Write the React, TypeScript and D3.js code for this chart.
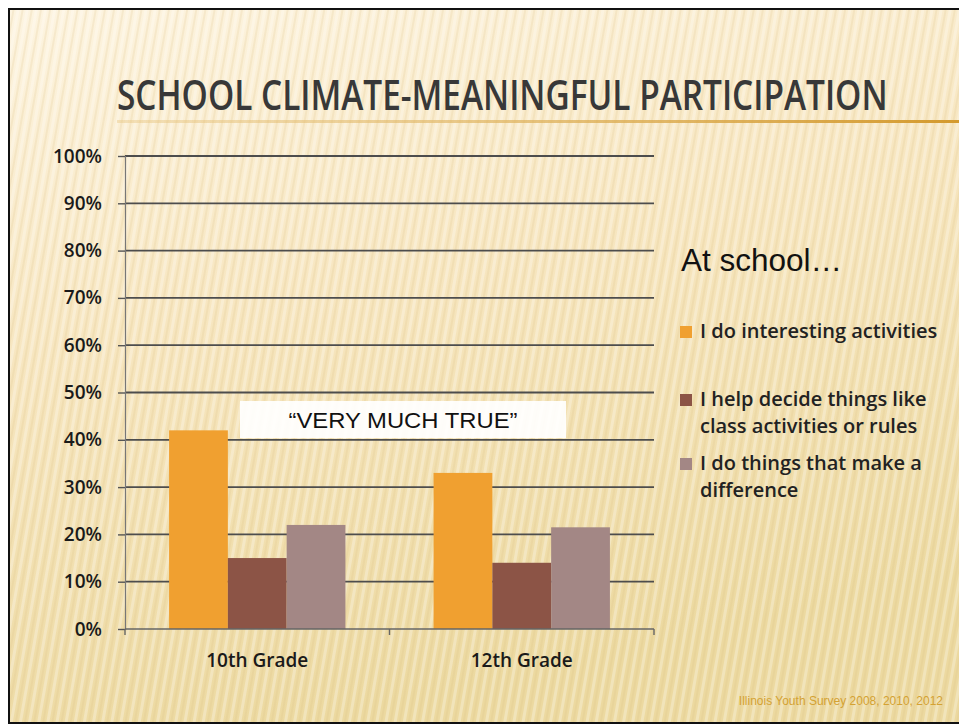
import React, { useEffect, useRef } from 'react';
import * as d3 from 'd3';

const grades = ['10th Grade', '12th Grade'];
const seriesNames = [
  'I do interesting activities',
  'I help decide things like class activities or rules',
  'I do things that make a difference',
];
const interesting = [42, 33];
const helpDecide = [15, 14];
const makeDifference = [22, 21.5];
const yTicks = [0, 10, 20, 30, 40, 50, 60, 70, 80, 90, 100];
const legendLines = [
  ['I do interesting activities'],
  ['I help decide things like', 'class activities or rules'],
  ['I do things that make a', 'difference'],
];
const colors = ['#f0a030', '#8c5446', '#a38785'];

export default function App() {
  const ref = useRef<SVGSVGElement>(null);

  useEffect(() => {
    const svg = d3.select(ref.current);
    svg.selectAll('*').remove();
    const W = 959, H = 727;

    const defs = svg.append('defs');
    const bg = defs.append('linearGradient').attr('id', 'bg').attr('x1', 0).attr('y1', 0).attr('x2', 0.3).attr('y2', 1);
    bg.append('stop').attr('offset', '0%').attr('stop-color', '#fdf4e0');
    bg.append('stop').attr('offset', '45%').attr('stop-color', '#f7e6c0');
    bg.append('stop').attr('offset', '100%').attr('stop-color', '#ecd9a0');

    const stripes = defs.append('pattern').attr('id', 'stripes')
      .attr('width', 9).attr('height', 40).attr('patternUnits', 'userSpaceOnUse')
      .attr('patternTransform', 'rotate(10)');
    stripes.append('rect').attr('width', 3).attr('height', 40).attr('fill', '#ffffff').attr('opacity', 0.28);
    stripes.append('rect').attr('x', 5).attr('width', 2).attr('height', 40).attr('fill', '#d8be80').attr('opacity', 0.18);

    const line = defs.append('linearGradient').attr('id', 'uline');
    line.append('stop').attr('offset', '0%').attr('stop-color', '#e6c27a').attr('stop-opacity', 0.4);
    line.append('stop').attr('offset', '100%').attr('stop-color', '#d49a2e');

    svg.append('rect').attr('width', W).attr('height', H).attr('fill', '#ffffff');
    svg.append('rect').attr('x', 9).attr('y', 9).attr('width', W - 9).attr('height', 714).attr('fill', 'url(#bg)');
    svg.append('rect').attr('x', 9).attr('y', 9).attr('width', W - 9).attr('height', 714).attr('fill', 'url(#stripes)');
    // frame
    svg.append('path').attr('d', `M${W},9 H9 V723 H${W}`).attr('fill', 'none').attr('stroke', '#111').attr('stroke-width', 2);

    // title, squeezed to the slide's width
    svg.append('rect').attr('x', 117).attr('y', 120).attr('width', W - 117).attr('height', 3).attr('fill', 'url(#uline)');
    const title = svg.append('text').attr('x', 0).attr('y', 0)
      .style('font-family', '"Open Sans", sans-serif').style('font-size', '41px').style('font-weight', 600)
      .attr('fill', '#383838')
      .text('SCHOOL CLIMATE-MEANINGFUL PARTICIPATION');
    const tw = (title.node() as SVGTextElement).getComputedTextLength() || 1000;
    title.attr('transform', `translate(117,110) scale(${771 / tw},1)`);

    const left = 125, right = 654, base = 629, top = 156;
    const yScale = d3.scaleLinear().domain([0, 100]).range([base, top]);
    const x0 = d3.scaleBand().domain(grades).range([left, right]);
    const x1 = d3.scaleBand().domain(seriesNames).range([0, x0.bandwidth()]).paddingOuter(0.75);

    const chart = svg.append('g');

    // gridlines
    chart.append('g').selectAll('line').data(yTicks.slice(1)).enter().append('line')
      .attr('x1', left).attr('x2', right)
      .attr('y1', d => yScale(d)).attr('y2', d => yScale(d))
      .attr('stroke', '#4d4d4d').attr('stroke-width', 1.8);

    // y axis
    const yAxis = d3.axisLeft(yScale).tickValues(yTicks).tickSize(7).tickFormat(d => `${d}%`);
    const ya = chart.append('g').attr('transform', `translate(${left},0)`).call(yAxis);
    ya.select('.domain').attr('stroke', '#777').attr('stroke-width', 1.2);
    ya.selectAll('.tick line').attr('stroke', '#555').attr('stroke-width', 1.4);
    ya.selectAll('.tick text')
      .attr('x', -23)
      .attr('fill', '#1a1a1a')
      .style('font-family', '"Open Sans", sans-serif').style('font-size', '19px').style('font-weight', 600);

    // bars
    const values = [interesting, helpDecide, makeDifference];
    grades.forEach((g, gi) => {
      chart.append('g').attr('transform', `translate(${x0(g)},0)`)
        .selectAll('rect').data(seriesNames).enter().append('rect')
        .attr('x', d => x1(d) as number)
        .attr('width', x1.bandwidth())
        .attr('y', (d, i) => yScale(values[i][gi]))
        .attr('height', (d, i) => yScale(0) - yScale(values[i][gi]))
        .attr('fill', (d, i) => colors[i]);
    });

    // x axis
    const xa = chart.append('g').attr('transform', `translate(0,${base})`);
    xa.append('line').attr('x1', left).attr('x2', right).attr('y1', 0).attr('y2', 0).attr('stroke', '#666').attr('stroke-width', 1.4);
    [left, right].concat(grades.slice(1).map(g => x0(g) as number)).forEach(x => {
      xa.append('line').attr('x1', x).attr('x2', x).attr('y1', 0).attr('y2', 6).attr('stroke', '#666').attr('stroke-width', 1.4);
    });
    xa.selectAll('.xl').data(grades).enter().append('text')
      .attr('x', d => (x0(d) as number) + x0.bandwidth() / 2)
      .attr('y', 38).attr('text-anchor', 'middle')
      .attr('fill', '#1a1a1a')
      .style('font-family', '"Open Sans", sans-serif').style('font-size', '19px').style('font-weight', 600)
      .text(d => d);

    // annotation box
    svg.append('rect').attr('x', 240).attr('y', 401).attr('width', 326).attr('height', 37).attr('fill', '#ffffff').attr('opacity', 0.92);
    svg.append('text').attr('x', 403).attr('y', 428).attr('text-anchor', 'middle')
      .attr('textLength', 229).attr('lengthAdjust', 'spacingAndGlyphs')
      .style('font-family', '"Liberation Sans", Arial, sans-serif').style('font-size', '22px')
      .attr('fill', '#111').text('\u201CVERY MUCH TRUE\u201D');

    // legend
    svg.append('text').attr('x', 681).attr('y', 271)
      .style('font-family', '"Liberation Sans", Arial, sans-serif').style('font-size', '31.5px')
      .attr('fill', '#111').text('At school\u2026');
    const legendY = [338, 406, 470];
    legendLines.forEach((lines, i) => {
      svg.append('rect').attr('x', 680).attr('y', legendY[i] - 12).attr('width', 12).attr('height', 12).attr('fill', colors[i]);
      lines.forEach((t, j) => {
        svg.append('text').attr('x', 700).attr('y', legendY[i] + j * 27)
          .attr('fill', '#222')
          .style('font-family', '"Open Sans", sans-serif').style('font-size', '20px').style('font-weight', 600)
          .text(t);
      });
    });

    // source
    svg.append('text').attr('x', 943).attr('y', 705).attr('text-anchor', 'end')
      .style('font-family', '"Liberation Sans", Arial, sans-serif').style('font-size', '12px')
      .attr('fill', '#d4a233').text('Illinois Youth Survey 2008, 2010, 2012');
  }, []);

  return (
    <svg ref={ref} width={959} height={727} style={{ position: 'absolute', left: 0, top: 0 }} />
  );
}
